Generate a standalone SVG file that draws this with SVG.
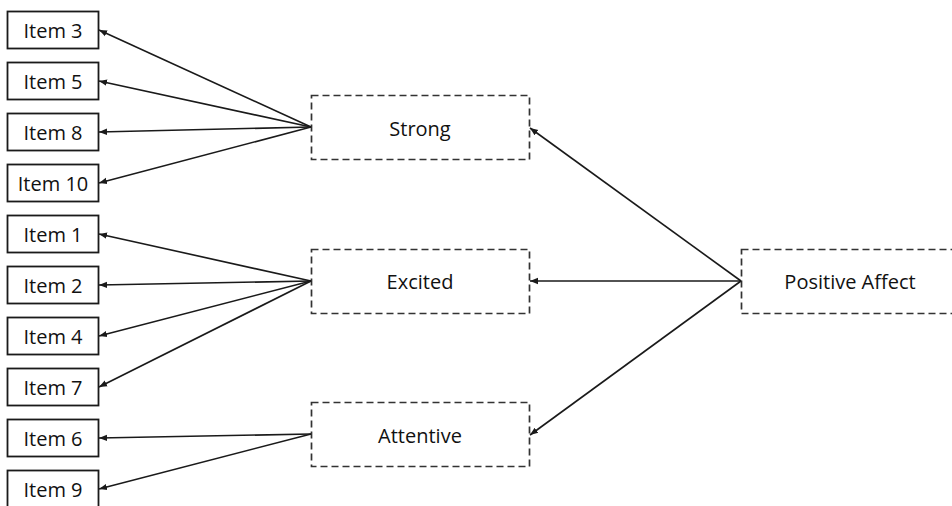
<svg xmlns="http://www.w3.org/2000/svg" width="952" height="506" viewBox="0 0 952 506">
  <style>
    .item rect { fill: #fff; stroke: #1a1a1a; stroke-width: 1.8; }
    .factor rect { fill: #fff; stroke: #333; stroke-width: 1.7; stroke-dasharray: 7 4; }
    text { font-family: "Open Sans", "Liberation Sans", sans-serif; font-size: 20px; fill: #111; text-anchor: middle; dominant-baseline: central; }
    .edges line { stroke: #1a1a1a; stroke-width: 1.6; marker-end: url(#arrow); }
  </style>
  <defs>
    <marker id="arrow" viewBox="0 0 10 10" refX="10" refY="5" markerWidth="5" markerHeight="5" markerUnits="strokeWidth" orient="auto">
      <path d="M0,1 L10,5 L0,9 z" fill="#1a1a1a"/>
    </marker>
  </defs>
  <rect width="952" height="506" fill="#fff"/>

  <!-- observed items -->
  <g id="item3" class="item"><rect x="7.5" y="11.5" width="91" height="37"/><text x="53" y="30">Item 3</text></g>
  <g id="item5" class="item"><rect x="7.5" y="62.5" width="91" height="37"/><text x="53" y="81">Item 5</text></g>
  <g id="item8" class="item"><rect x="7.5" y="113.5" width="91" height="37"/><text x="53" y="132">Item 8</text></g>
  <g id="item10" class="item"><rect x="7.5" y="164.5" width="91" height="37"/><text x="53" y="183">Item 10</text></g>
  <g id="item1" class="item"><rect x="7.5" y="215.5" width="91" height="37"/><text x="53" y="234">Item 1</text></g>
  <g id="item2" class="item"><rect x="7.5" y="266.5" width="91" height="37"/><text x="53" y="285">Item 2</text></g>
  <g id="item4" class="item"><rect x="7.5" y="317.5" width="91" height="37"/><text x="53" y="336">Item 4</text></g>
  <g id="item7" class="item"><rect x="7.5" y="368.5" width="91" height="37"/><text x="53" y="387">Item 7</text></g>
  <g id="item6" class="item"><rect x="7.5" y="419.5" width="91" height="37"/><text x="53" y="438">Item 6</text></g>
  <g id="item9" class="item"><rect x="7.5" y="470.5" width="91" height="37"/><text x="53" y="489">Item 9</text></g>

  <!-- first-order factors -->
  <g id="strong" class="factor"><rect x="311.5" y="95.5" width="218" height="64"/><text x="420" y="128">Strong</text></g>
  <g id="excited" class="factor"><rect x="311.5" y="249.5" width="218" height="64"/><text x="420" y="281">Excited</text></g>
  <g id="attentive" class="factor"><rect x="311.5" y="402.5" width="218" height="64"/><text x="420" y="435">Attentive</text></g>

  <!-- second-order factor -->
  <g id="positive-affect" class="factor"><rect x="741.5" y="249.5" width="230" height="64"/><text x="850" y="281">Positive Affect</text></g>

  <g id="edges" class="edges">
    <line x1="311" y1="127" x2="99" y2="30"/>
    <line x1="311" y1="127" x2="99" y2="81"/>
    <line x1="311" y1="127" x2="99" y2="132"/>
    <line x1="311" y1="127" x2="99" y2="183"/>
    <line x1="311" y1="281" x2="99" y2="234"/>
    <line x1="311" y1="281" x2="99" y2="285"/>
    <line x1="311" y1="281" x2="99" y2="336"/>
    <line x1="311" y1="281" x2="99" y2="387"/>
    <line x1="311" y1="434" x2="99" y2="438"/>
    <line x1="311" y1="434" x2="99" y2="489"/>
    <line x1="741" y1="281" x2="530" y2="128"/>
    <line x1="741" y1="281" x2="530" y2="281"/>
    <line x1="741" y1="281" x2="530" y2="435"/>
  </g>
</svg>
